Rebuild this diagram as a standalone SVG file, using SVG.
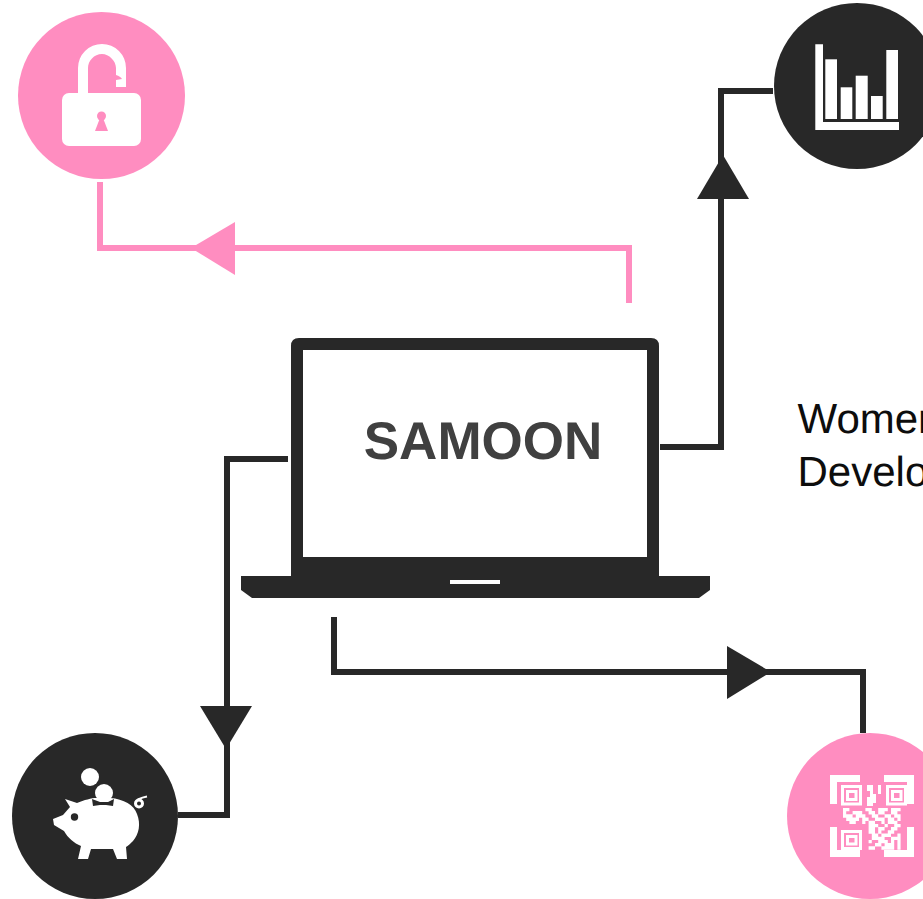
<svg xmlns="http://www.w3.org/2000/svg" width="923" height="899" viewBox="0 0 923 899">
<style>
.pk{fill:#ff8dc0}.dk{fill:#282828}.w{fill:#fff}
.cd{fill:none;stroke:#282828;stroke-width:6}.cp{fill:none;stroke:#ff8dc0;stroke-width:6}
.t{font-family:"Liberation Sans",Arial,sans-serif;text-rendering:geometricPrecision}
.ring{fill:none;stroke:#fff;stroke-width:3}
</style>
<rect width="923" height="899" fill="#fff"/>
<g id="connectors">
<path class="cp" d="M100 182V248H629V303"/>
<polygon class="pk" points="191,248 235,222 235,275"/>
<path class="cd" d="M660 447H721V91H773"/>
<polygon class="dk" points="723,155 697,199 749,199"/>
<path class="cd" d="M288 459H227V815H178"/>
<polygon class="dk" points="226,749 200,706 252,706"/>
<path class="cd" d="M334 617V672H863V733"/>
<polygon class="dk" points="771,672 727,646 727,699"/>
</g>
<g id="lock">
<circle class="pk" cx="101.500" cy="95.500" r="83.500"/>
<rect class="w" x="62" y="93" width="79" height="53" rx="7"/>
<path class="w" d="M78 94V68A24 24 0 0 1 126 68V87H116V80L122 79C121 77 119 76 116 75V68C116 61 109 54 102 54C94 54 88 61 88 68V94Z"/>
<circle class="pk" cx="101.500" cy="116" r="4.500"/>
<polygon class="pk" points="100,118 103,118 108,131 95,131"/>
</g>
<g id="chart">
<circle class="dk" cx="857" cy="86" r="83"/>
<path class="w" d="M815.300 44.300H823V122H899V130H815.300Z"/>
<rect class="w" x="825.300" y="59.300" width="11.700" height="59.700"/>
<rect class="w" x="840.700" y="87.300" width="11.600" height="31.700"/>
<rect class="w" x="855.700" y="75.700" width="12" height="43.300"/>
<rect class="w" x="871" y="96" width="11.700" height="23"/>
<rect class="w" x="886.300" y="50" width="11.700" height="69"/>
</g>
<g id="piggy">
<circle class="dk" cx="95" cy="816" r="83"/>
<circle class="w" cx="90" cy="777" r="9"/>
<path class="w" d="M65 799L77 803C84 800 92 798 96 798H110C124 799 134 805 137 814C141 824 139 834 133 841C130 844 128 846 126 847L127 859H117L113 849H91L88 859H78L81 846C74 843 68 838 64 831L54 825L53 819L63 815L70 807Z"/>
<path class="dk" d="M92 799L100 802H108L114 799L113 806L106 805H100L93 806Z"/>
<circle class="w" cx="104" cy="793" r="9"/>
<circle class="dk" cx="74.500" cy="817" r="3.700"/>
<circle fill="#282828" stroke="#fff" stroke-width="3" cx="139" cy="803.500" r="3.500"/>
<path d="M138 799.500C141 798 144 797 147 796.500" stroke="#fff" stroke-width="2.200" fill="none"/>
</g>
<g id="qr">
<circle class="pk" cx="870" cy="816" r="83"/>
<path class="w" d="M830 775H860V782H837V804H830ZM884 775H914V804H907V782H884ZM830 827H837V850H860V857H830ZM907 827H914V857H884V850H907Z"/>
<rect class="ring" x="842.500" y="786.500" width="18" height="17.500"/>
<rect class="ring" x="847.500" y="791.500" width="8.500" height="8"/>
<rect class="ring" x="887.500" y="786.500" width="18" height="17.500"/>
<rect class="ring" x="892.500" y="791.500" width="8.500" height="8"/>
<rect class="ring" x="842.500" y="831.500" width="18" height="17"/>
<rect class="ring" x="847.500" y="836.500" width="8.500" height="7.500"/>
<path class="w" d="M867 785H873V794H876V803H873V806H867V797H870V791H867ZM878 785H881V794H878Z"/>
<path fill="none" stroke="#fff" stroke-width="3.400" d="M843 809.600h6.400M865.400 809.600h6.400M878.200 809.600h9.600M891 809.600h9.600
M843 812.800h3.200M852.600 812.800h9.600M868.600 812.800h6.400M878.200 812.800h6.400M891 812.800h6.400
M843 816h9.600M855.800 816h9.600M871.800 816h6.400M884.600 816h6.400M894.200 816h6.400
M846.200 819.200h6.400M852.600 819.200h6.400M862.200 819.200h6.400M875 819.200h9.600M887.800 819.200h6.400M897.400 819.200h3.200
M849.400 822.400h6.400M862.200 822.400h3.200M868.600 822.400h6.400M881.400 822.400h3.200M887.800 822.400h9.600
M868.600 825.600h9.600M884.600 825.600h3.200M894.200 825.600h6.400
M868.600 828.800h6.400M878.200 828.800h6.400M891 828.800h6.400
M868.600 832h6.400M878.200 832h3.200M887.800 832h6.400
M871.800 835.200h6.400M881.400 835.200h9.600M897.400 835.200h3.200
M871.800 838.400h12.800M891 838.400h6.400M897.400 838.400h3.200
M868.600 841.600h3.200M878.200 841.600h9.600M891 841.600h3.200M897.400 841.600h3.200
M875 844.800h6.400M884.600 844.800h9.600M897.400 844.800h3.200
M868.600 848h6.400M881.400 848h12.800M897.400 848h3.200"/>
</g>
<g id="laptop">
<path class="dk" fill-rule="evenodd" d="M299 338H651Q659 338 659 346V576H710V590L699 598H252L241 590V576H291V346Q291 338 299 338ZM303 350V557H647V350Z"/>
<rect class="w" x="450" y="580" width="50" height="4"/>
<text class="t" x="483" y="459" font-size="53" font-weight="700" text-anchor="middle" fill="#404040">SAMOON</text>
</g>
<g id="caption" class="t" font-size="42" fill="#0d0d0d">
<text x="797.500" y="433">Women</text>
<text x="797.500" y="486">Develo</text>
</g>
</svg>
